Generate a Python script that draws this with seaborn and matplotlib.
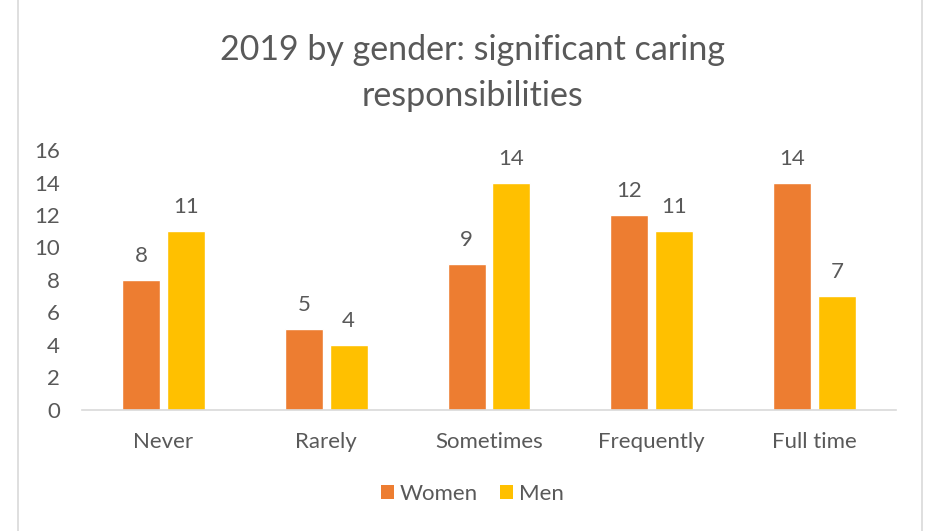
import matplotlib
matplotlib.use("Agg")
import matplotlib.pyplot as plt
import seaborn as sns
import pandas as pd
from matplotlib.lines import Line2D
from matplotlib.patches import Patch

categories = ["Never", "Rarely", "Sometimes", "Frequently", "Full time"]
women = [8, 5, 9, 12, 14]
men = [11, 4, 14, 11, 7]
series = ["Women", "Men"]
colors = ["#ED7D31", "#FFC000"]
yticks = [0, 2, 4, 6, 8, 10, 12, 14, 16]

df = pd.DataFrame({
    "category": categories * 2,
    "value": women + men,
    "series": ["Women"] * len(categories) + ["Men"] * len(categories),
})

sns.set_theme(style="white")
plt.rcParams["font.family"] = ["Lato", "DejaVu Sans"]
text_color = "#595959"

fig = plt.figure(figsize=(9.26, 5.31), dpi=100)
ax = fig.add_axes([0.0886, 0.2279, 0.8790, 0.4896])

sns.barplot(data=df, x="category", y="value", hue="series", order=categories,
            hue_order=series, palette=colors, width=0.55, gap=0.15,
            saturation=1, legend=False, ax=ax)

for container in ax.containers:
    ax.bar_label(container, fmt="%d", padding=10, fontsize=16, color=text_color)

ax.set_ylim(0, 16)
ax.set_yticks(yticks)
ax.set_yticklabels([str(t) for t in yticks])
ax.set_xlim(-0.5, len(categories) - 0.5)
ax.set_xlabel("")
ax.set_ylabel("")
for side in ["top", "right", "left"]:
    ax.spines[side].set_visible(False)
ax.spines["bottom"].set_color("#D9D9D9")
ax.spines["bottom"].set_linewidth(1.2)
ax.tick_params(axis="both", length=0, labelsize=16, colors=text_color)
ax.tick_params(axis="x", pad=16)
ax.tick_params(axis="y", pad=16)

fig.text(0.51, 0.862, "2019 by gender: significant caring\nresponsibilities",
         ha="center", va="center", fontsize=24.5, color=text_color, linespacing=1.55)

handles = [Patch(facecolor=c, edgecolor="none") for c in colors]
fig.legend(handles, series, loc="center", bbox_to_anchor=(0.51, 0.07), ncol=2,
           frameon=False, fontsize=16, labelcolor=text_color, handlelength=0.6,
           handleheight=0.6, handletextpad=0.25, columnspacing=1.0)

# chart frame edges
fig.add_artist(Line2D([18 / 926, 18 / 926], [0, 1], color="#D9D9D9", lw=1.2,
                      transform=fig.transFigure))
fig.add_artist(Line2D([922 / 926, 922 / 926], [0, 1], color="#D9D9D9", lw=1.2,
                      transform=fig.transFigure))

fig.savefig("out.png", dpi=100)
